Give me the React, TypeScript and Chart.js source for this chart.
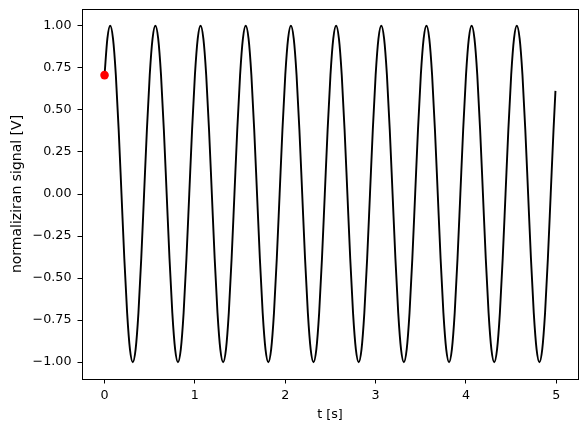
import React, { useEffect, useRef } from "react";
import { Chart, registerables } from "chart.js";

Chart.register(...registerables);

// time samples [s]
const tSeconds = [
  0, 0.03125, 0.0625, 0.09375, 0.125, 0.15625, 0.1875, 0.21875, 0.25, 0.28125, 0.3125, 0.34375, 0.375, 0.40625, 0.4375, 0.46875,
  0.5, 0.53125, 0.5625, 0.59375, 0.625, 0.65625, 0.6875, 0.71875, 0.75, 0.78125, 0.8125, 0.84375, 0.875, 0.90625, 0.9375, 0.96875,
  1, 1.03125, 1.0625, 1.09375, 1.125, 1.15625, 1.1875, 1.21875, 1.25, 1.28125, 1.3125, 1.34375, 1.375, 1.40625, 1.4375, 1.46875,
  1.5, 1.53125, 1.5625, 1.59375, 1.625, 1.65625, 1.6875, 1.71875, 1.75, 1.78125, 1.8125, 1.84375, 1.875, 1.90625, 1.9375, 1.96875,
  2, 2.03125, 2.0625, 2.09375, 2.125, 2.15625, 2.1875, 2.21875, 2.25, 2.28125, 2.3125, 2.34375, 2.375, 2.40625, 2.4375, 2.46875,
  2.5, 2.53125, 2.5625, 2.59375, 2.625, 2.65625, 2.6875, 2.71875, 2.75, 2.78125, 2.8125, 2.84375, 2.875, 2.90625, 2.9375, 2.96875,
  3, 3.03125, 3.0625, 3.09375, 3.125, 3.15625, 3.1875, 3.21875, 3.25, 3.28125, 3.3125, 3.34375, 3.375, 3.40625, 3.4375, 3.46875,
  3.5, 3.53125, 3.5625, 3.59375, 3.625, 3.65625, 3.6875, 3.71875, 3.75, 3.78125, 3.8125, 3.84375, 3.875, 3.90625, 3.9375, 3.96875,
  4, 4.03125, 4.0625, 4.09375, 4.125, 4.15625, 4.1875, 4.21875, 4.25, 4.28125, 4.3125, 4.34375, 4.375, 4.40625, 4.4375, 4.46875,
  4.5, 4.53125, 4.5625, 4.59375, 4.625, 4.65625, 4.6875, 4.71875, 4.75, 4.78125, 4.8125, 4.84375, 4.875, 4.90625, 4.9375, 4.96875,
  4.99,
];

// normalized signal [V]
const signal = [
  0.707, 0.924, 1, 0.924, 0.707, 0.383, 0, -0.383, -0.707, -0.924, -1, -0.924, -0.707, -0.383, 0, 0.383,
  0.707, 0.924, 1, 0.924, 0.707, 0.383, 0, -0.383, -0.707, -0.924, -1, -0.924, -0.707, -0.383, 0, 0.383,
  0.707, 0.924, 1, 0.924, 0.707, 0.383, 0, -0.383, -0.707, -0.924, -1, -0.924, -0.707, -0.383, 0, 0.383,
  0.707, 0.924, 1, 0.924, 0.707, 0.383, 0, -0.383, -0.707, -0.924, -1, -0.924, -0.707, -0.383, 0, 0.383,
  0.707, 0.924, 1, 0.924, 0.707, 0.383, 0, -0.383, -0.707, -0.924, -1, -0.924, -0.707, -0.383, 0, 0.383,
  0.707, 0.924, 1, 0.924, 0.707, 0.383, 0, -0.383, -0.707, -0.924, -1, -0.924, -0.707, -0.383, 0, 0.383,
  0.707, 0.924, 1, 0.924, 0.707, 0.383, 0, -0.383, -0.707, -0.924, -1, -0.924, -0.707, -0.383, 0, 0.383,
  0.707, 0.924, 1, 0.924, 0.707, 0.383, 0, -0.383, -0.707, -0.924, -1, -0.924, -0.707, -0.383, 0, 0.383,
  0.707, 0.924, 1, 0.924, 0.707, 0.383, 0, -0.383, -0.707, -0.924, -1, -0.924, -0.707, -0.383, 0, 0.383,
  0.707, 0.924, 1, 0.924, 0.707, 0.383, 0, -0.383, -0.707, -0.924, -1, -0.924, -0.707, -0.383, 0, 0.383,
  0.613,
];

// highlighted start sample
const markerT = [0];
const markerV = [0.707];

const xTicks = [0, 1, 2, 3, 4, 5];
const yTicks = [-1, -0.75, -0.5, -0.25, 0, 0.25, 0.5, 0.75, 1];
const xLabel = "t [s]";
const yLabel = "normaliziran signal [V]";

const FONT = { family: "'DejaVu Sans', sans-serif", size: 12.7 };
const YTITLE_FONT = { family: "'DejaVu Sans', sans-serif", size: 14 };

export default function App() {
  const ref = useRef<HTMLCanvasElement>(null);

  useEffect(() => {
    document.body.style.margin = "0";
    const canvas = ref.current;
    if (!canvas) return;

    const framePlugin = {
      id: "frame",
      afterDraw(chart: any) {
        const { ctx, chartArea: a } = chart;
        ctx.save();
        ctx.strokeStyle = "#000";
        ctx.lineWidth = 1;
        ctx.strokeRect(a.left + 0.5, a.top + 0.5, a.right - a.left, a.bottom - a.top);
        ctx.restore();
      },
    };

    const chart = new Chart(canvas, {
      type: "line",
      data: {
        datasets: [
          {
            type: "scatter",
            data: markerT.map((t, i) => ({ x: t, y: markerV[i] })),
            backgroundColor: "#ff0000",
            borderWidth: 0,
            pointRadius: 4.3,
            order: 1,
          } as any,
          {
            type: "line",
            data: tSeconds.map((t, i) => ({ x: t, y: signal[i] })),
            borderColor: "#000000",
            borderWidth: 1.9,
            pointRadius: 0,
            fill: false,
            cubicInterpolationMode: "monotone",
            order: 2,
          },
        ],
      },
      options: {
        animation: false,
        responsive: false,
        layout: { padding: { top: 9, right: 9, left: 0, bottom: 0 } },
        plugins: { legend: { display: false }, tooltip: { enabled: false } },
        scales: {
          x: {
            type: "linear",
            min: -0.2495,
            max: 5.2395,
            afterBuildTicks: (s: any) => {
              s.ticks = xTicks.map((v) => ({ value: v }));
            },
            afterFit: (s: any) => {
              s.height = 53;
              s.paddingLeft = 0;
              s.paddingRight = 0;
            },
            grid: {
              display: true,
              drawOnChartArea: false,
              drawTicks: true,
              tickLength: 4.5,
              color: "#000",
              lineWidth: 1,
            },
            border: { display: false },
            ticks: {
              autoSkip: false,
              maxRotation: 0,
              padding: 5,
              color: "#000",
              font: FONT,
              callback: (v: any) => String(v),
            },
            title: {
              display: true,
              text: xLabel,
              color: "#000",
              font: FONT,
              padding: { top: 0, bottom: 10 },
            },
          },
          y: {
            type: "linear",
            min: -1.1,
            max: 1.1,
            afterBuildTicks: (s: any) => {
              s.ticks = yTicks.map((v) => ({ value: v }));
            },
            afterFit: (s: any) => {
              s.width = 82;
              s.paddingTop = 0;
              s.paddingBottom = 0;
            },
            grid: {
              display: true,
              drawOnChartArea: false,
              drawTicks: true,
              tickLength: 4.5,
              color: "#000",
              lineWidth: 1,
            },
            border: { display: false },
            ticks: {
              autoSkip: false,
              padding: 6,
              color: "#000",
              font: FONT,
              callback: (v: any) => (v < 0 ? "\u2212" : "") + Math.abs(Number(v)).toFixed(2),
            },
            title: {
              display: true,
              text: yLabel,
              color: "#000",
              font: YTITLE_FONT,
              padding: { top: 8.6, bottom: 0 },
            },
          },
        },
      },
      plugins: [framePlugin],
    });

    return () => chart.destroy();
  }, []);

  return (
    <div style={{ width: 587, height: 432 }}>
      <canvas ref={ref} width={587} height={432} style={{ display: "block" }} />
    </div>
  );
}
